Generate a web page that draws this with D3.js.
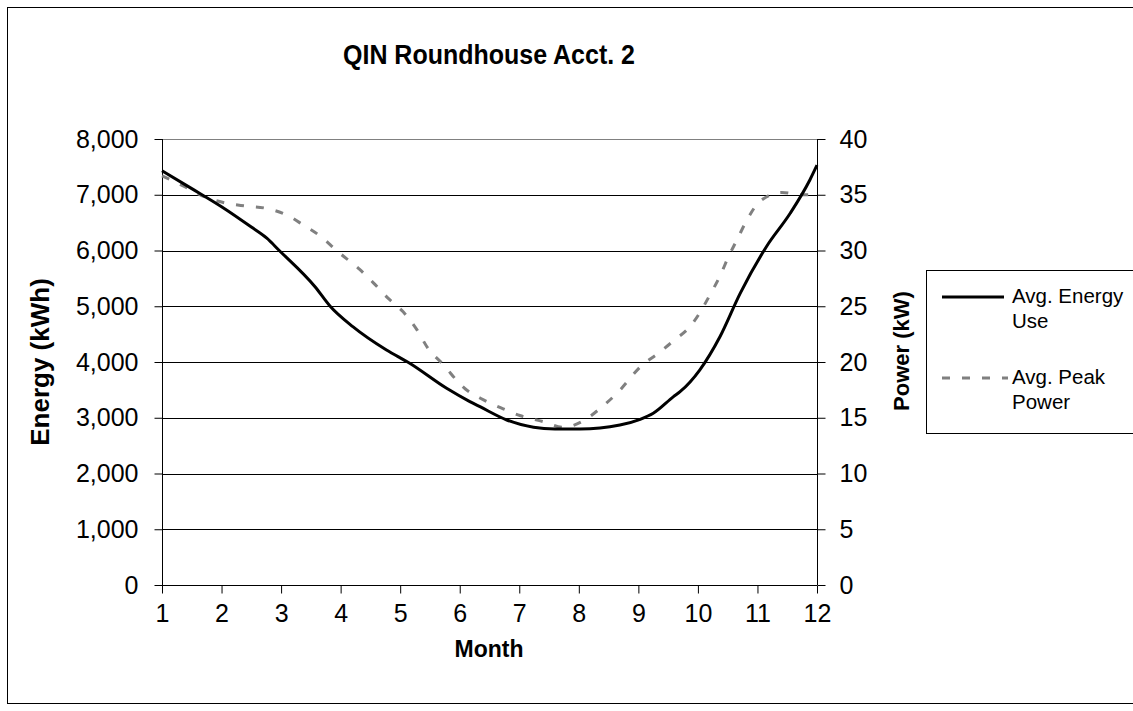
<!DOCTYPE html>
<html>
<head>
<meta charset="utf-8">
<script src="https://cdn.jsdelivr.net/npm/d3@7"></script>
<style>
  html, body { margin: 0; padding: 0; background: #fff; }
  svg { display: block; font-family: "Liberation Sans", Arial, sans-serif; }
</style>
</head>
<body>
<svg id="chart" width="1133" height="711"></svg>
<script>
// ---- data ----
const monthTicks = [1, 2, 3, 4, 5, 6, 7, 8, 9, 10, 11, 12];
const energyTicks = [0, 1000, 2000, 3000, 4000, 5000, 6000, 7000, 8000];
const powerTicks = [0, 5, 10, 15, 20, 25, 30, 35, 40];

const energyMonth = [1.0, 1.5, 2.0, 2.5, 2.76, 2.96, 3.57, 3.82, 4.21, 4.77, 5.16, 5.78, 6.17, 6.34, 6.79, 7.24, 7.6, 8.02, 8.69, 9.03, 9.25, 9.59, 9.70, 10.03, 10.37, 10.71, 11.15, 11.55, 11.88, 12.0];
const energyValue = [7430, 7110, 6785, 6420, 6220, 6010, 5350, 5005, 4630, 4215, 3977, 3528, 3290, 3198, 2960, 2829, 2800, 2798, 2870, 2972, 3080, 3378, 3467, 3856, 4454, 5232, 6068, 6667, 7265, 7530];

const powerMonth = [1.0, 1.39, 1.72, 2.03, 2.39, 2.73, 3.09, 3.37, 3.68, 3.93, 4.32, 4.55, 4.80, 5.05, 5.28, 5.47, 5.70, 6.09, 6.40, 6.73, 7.01, 7.40, 7.74, 8.08, 8.36, 8.64, 9.06, 9.34, 9.59, 9.87, 10.03, 10.20, 10.37, 10.51, 10.66, 10.82, 11.04, 11.41, 11.74, 12.0];
const powerValue = [36.7, 35.7, 34.8, 34.3, 34.0, 33.8, 33.2, 32.3, 31.2, 30.0, 28.3, 27.1, 25.7, 24.5, 22.9, 21.2, 19.9, 17.6, 16.6, 15.8, 15.2, 14.65, 14.14, 14.74, 15.85, 17.19, 19.7, 20.8, 21.9, 23.2, 24.4, 26.0, 27.7, 29.4, 31.0, 32.7, 34.4, 35.2, 35.0, 35.0];

const seriesNames = ["Avg. Energy Use", "Avg. Peak Power"];

// ---- layout ----
const svg = d3.select("#chart");
const plot = { left: 162, right: 817, top: 139, bottom: 585 };

const x = d3.scaleLinear().domain([1, 12]).range([plot.left, plot.right]);
const yE = d3.scaleLinear().domain([0, 8000]).range([plot.bottom, plot.top]);
const yP = d3.scaleLinear().domain([0, 40]).range([plot.bottom, plot.top]);

// outer frame
svg.append("rect").attr("x", 7.5).attr("y", 7.5).attr("width", 1140).attr("height", 696)
  .attr("fill", "none").attr("stroke", "#000").attr("stroke-width", 1);

// title
svg.append("text").attr("transform", "translate(489,64) scale(1,1.1)").attr("text-anchor", "middle")
  .attr("font-size", 25).attr("font-weight", "bold").text("QIN Roundhouse Acct. 2");

// gridlines
svg.append("g").selectAll("line").data(energyTicks.filter(d => d > 0 && d < 8000)).join("line")
  .attr("x1", plot.left).attr("x2", plot.right)
  .attr("y1", d => Math.round(yE(d)) + 0.5).attr("y2", d => Math.round(yE(d)) + 0.5)
  .attr("stroke", "#000").attr("stroke-width", 1);
// plot border top (gray)
svg.append("line").attr("x1", plot.left).attr("x2", plot.right)
  .attr("y1", plot.top + 0.5).attr("y2", plot.top + 0.5).attr("stroke", "#808080");

const tickFont = 25;

// left axis
const gL = svg.append("g").attr("transform", `translate(${plot.left + 0.5},0)`)
  .call(d3.axisLeft(yE).tickValues(energyTicks).tickFormat(d3.format(",")).tickSize(8).tickPadding(16));
// right axis
const gR = svg.append("g").attr("transform", `translate(${plot.right + 0.5},0)`)
  .call(d3.axisRight(yP).tickValues(powerTicks).tickFormat(d3.format("d")).tickSize(8).tickPadding(14));
// bottom axis
const gB = svg.append("g").attr("transform", `translate(0,${plot.bottom + 0.5})`)
  .call(d3.axisBottom(x).tickValues(monthTicks).tickFormat(d3.format("d")).tickSize(8).tickPadding(11));

[gL, gR, gB].forEach(g => {
  g.select(".domain").attr("stroke", "#000");
  g.selectAll(".tick line").attr("stroke", "#000");
  g.selectAll(".tick text").attr("font-size", tickFont).attr("fill", "#000")
    .attr("font-family", "'Liberation Sans', Arial, sans-serif");
});
gL.select(".domain").attr("d", `M0,${plot.top}V${plot.bottom}`);
gR.select(".domain").attr("d", `M0,${plot.top}V${plot.bottom}`);
gB.select(".domain").attr("d", `M${plot.left},0H${plot.right}`);

// axis titles
svg.append("text").attr("transform", "translate(49,362) rotate(-90)").attr("text-anchor", "middle")
  .attr("font-size", 26).attr("font-weight", "bold").text("Energy (kWh)");
svg.append("text").attr("transform", "translate(909,351) rotate(-90)").attr("text-anchor", "middle")
  .attr("font-size", 22).attr("font-weight", "bold").text("Power (kW)");
svg.append("text").attr("x", 489).attr("y", 657).attr("text-anchor", "middle")
  .attr("font-size", 23).attr("font-weight", "bold").text("Month");

// lines
const energyData = energyMonth.map((m, i) => [m, energyValue[i]]);
const powerData = powerMonth.map((m, i) => [m, powerValue[i]]);

svg.append("path").datum(powerData)
  .attr("fill", "none").attr("stroke", "#808080").attr("stroke-width", 3)
  .attr("stroke-dasharray", "8,12")
  .attr("d", d3.line().x(d => x(d[0])).y(d => yP(d[1])).curve(d3.curveMonotoneX));

svg.append("path").datum(energyData)
  .attr("fill", "none").attr("stroke", "#000").attr("stroke-width", 3)
  .attr("d", d3.line().x(d => x(d[0])).y(d => yE(d[1])).curve(d3.curveMonotoneX));

// legend
const lg = svg.append("g");
lg.append("rect").attr("x", 926.5).attr("y", 270.5).attr("width", 220).attr("height", 163)
  .attr("fill", "#fff").attr("stroke", "#000");
const legendFont = 20.5;
lg.append("line").attr("x1", 942).attr("x2", 1004).attr("y1", 297).attr("y2", 297)
  .attr("stroke", "#000").attr("stroke-width", 3);
lg.append("text").attr("x", 1012).attr("y", 303).attr("font-size", legendFont).text("Avg. Energy");
lg.append("text").attr("x", 1012).attr("y", 328).attr("font-size", legendFont).text("Use");
lg.append("line").attr("x1", 942).attr("x2", 1008).attr("y1", 378).attr("y2", 378)
  .attr("stroke", "#808080").attr("stroke-width", 3).attr("stroke-dasharray", "8,12");
lg.append("text").attr("x", 1012).attr("y", 384).attr("font-size", legendFont).text("Avg. Peak");
lg.append("text").attr("x", 1012).attr("y", 409).attr("font-size", legendFont).text("Power");
</script>
</body>
</html>
